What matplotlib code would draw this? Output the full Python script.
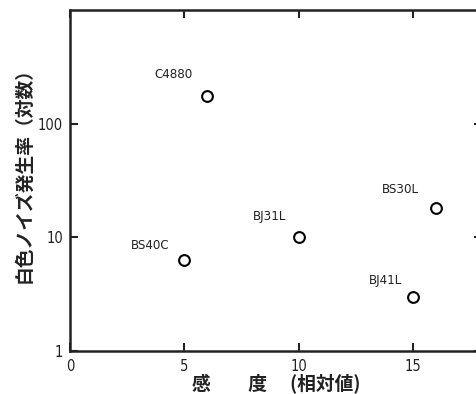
import matplotlib
matplotlib.use("Agg")
import matplotlib.pyplot as plt

names = ["C4880", "BS30L", "BJ31L", "BS40C", "BJ41L"]
sensitivity = [6, 16, 10, 5, 15]
noise_rate = [176, 18, 10, 6.3, 3.0]
label_offsets = [(-24.5, 15), (-26, 13.7), (-21, 15), (-24.5, 10.8), (-20, 12)]
xticks = [0, 5, 10, 15]
yticks = [1, 10, 100]
ytick_labels = ["1", "10", "100"]

num_font = dict(family="DejaVu Sans", stretch="condensed")
jp = ["Noto Sans CJK JP", "DejaVu Sans"]

fig = plt.figure(figsize=(4.77, 3.94), dpi=100)
ax = fig.add_axes([70/477, 43/394, 412/477, 341/394])

ax.scatter(sensitivity, noise_rate, s=60, facecolors="white", edgecolors="black", linewidths=1.5, zorder=3)
for n, x, y, off in zip(names, sensitivity, noise_rate, label_offsets):
    ax.annotate(n, (x, y), xytext=off, textcoords="offset points", ha="center", va="center",
                fontsize=9.5, color="#222222", **num_font)

ax.set_yscale("log")
ax.set_xlim(0, 18)
ax.set_ylim(1, 1000)
ax.set_xticks(xticks)
ax.set_xticklabels([str(t) for t in xticks], fontsize=10.5, **num_font)
ax.set_yticks(yticks)
ax.set_yticklabels(ytick_labels, fontsize=10.5, **num_font)
ax.minorticks_off()
ax.tick_params(direction="in", length=6, width=1.5, top=True, right=True, colors="#222222")
ax.tick_params(axis="y", pad=5)
ax.tick_params(axis="x", pad=6)
for s in ax.spines.values():
    s.set_linewidth(1.8)
    s.set_color("#222222")

ax.set_xlabel("感　　度　 (相対値)", family=jp, fontsize=13.5, fontweight="bold", color="#222222", va="center")
ax.xaxis.set_label_coords(0.5, -0.097)
ax.set_ylabel("白色ノイズ発生率（対数）", family=jp, fontsize=13.5, fontweight="bold", color="#222222", va="center")
ax.yaxis.set_label_coords(-0.113, 0.53)

fig.savefig("out.png", dpi=100)
